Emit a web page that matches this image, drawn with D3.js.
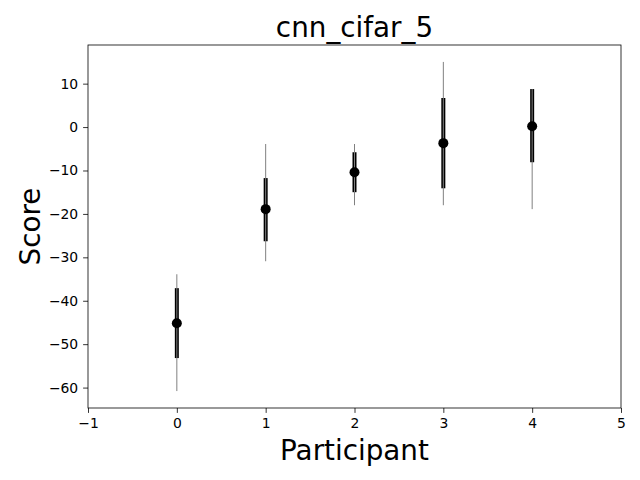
<!DOCTYPE html>
<html><head><meta charset="utf-8">
<script src="https://cdn.jsdelivr.net/npm/d3@7"></script>
<style>body{margin:0;background:#fff}svg{display:block}text{font-family:"DejaVu Sans",sans-serif}</style>
</head><body>
<svg id="c" width="640" height="480"></svg>
<script>
const participants = [0, 1, 2, 3, 4];
const means = [-45.2, -18.9, -10.4, -3.7, 0.2];
const stdLow = [-53.2, -26.3, -15.0, -14.1, -8.1];
const stdHigh = [-37.1, -11.75, -5.8, 6.7, 8.75];
const rangeLow = [-60.8, -30.9, -18.0, -18.0, -18.9];
const rangeHigh = [-33.9, -3.9, -3.9, 15.0, 8.75];
const xTicks = [-1, 0, 1, 2, 3, 4, 5];
const yTicks = [-60, -50, -40, -30, -20, -10, 0, 10];

const svg = d3.select("#c");
const L = 88, R = 621, T = 45, B = 408;
const x = d3.scaleLinear().domain([-1, 5]).range([L, R]);
const y = d3.scaleLinear().domain([-64.7, 18.9]).range([B, T]);

const g = svg.append("g");
participants.forEach((p, i) => {
  g.append("line").attr("x1", x(p)).attr("x2", x(p))
    .attr("y1", y(stdLow[i])).attr("y2", y(stdHigh[i]))
    .attr("stroke", "#000").attr("stroke-width", 4);
  g.append("line").attr("x1", x(p)).attr("x2", x(p))
    .attr("y1", y(rangeLow[i])).attr("y2", y(rangeHigh[i]))
    .attr("stroke", "#808080").attr("stroke-width", 1);
  g.append("circle").attr("cx", x(p)).attr("cy", y(means[i])).attr("r", 5).attr("fill", "#000");
});

const fmt = d => d < 0 ? "\u2212" + Math.abs(d) : d;
const xa = svg.append("g").attr("transform", `translate(0,${B})`)
  .call(d3.axisBottom(x).tickValues(xTicks).tickSize(4.9).tickPadding(4.9).tickFormat(fmt));
const ya = svg.append("g").attr("transform", `translate(${L},0)`)
  .call(d3.axisLeft(y).tickValues(yTicks).tickSize(4.9).tickPadding(4.9).tickFormat(fmt));
[xa, ya].forEach(a => {
  a.select(".domain").remove();
  a.selectAll("text").attr("font-size", 13.9).attr("fill", "#000").style("font-family", "DejaVu Sans");
  a.selectAll("line").attr("stroke", "#000").attr("stroke-width", 0.8);
});
svg.append("rect").attr("x", L).attr("y", T).attr("width", R - L).attr("height", B - T)
  .attr("fill", "none").attr("stroke", "#000").attr("stroke-width", 0.8);

svg.append("text").attr("x", (L + R) / 2).attr("y", 37).attr("text-anchor", "middle")
  .attr("font-size", 27.8).text("cnn_cifar_5");
svg.append("text").attr("x", (L + R) / 2).attr("y", 460).attr("text-anchor", "middle")
  .attr("font-size", 27.8).text("Participant");
svg.append("text").attr("transform", `translate(40,${(T + B) / 2}) rotate(-90)`).attr("text-anchor", "middle")
  .attr("font-size", 27.8).text("Score");
</script>
</body></html>
